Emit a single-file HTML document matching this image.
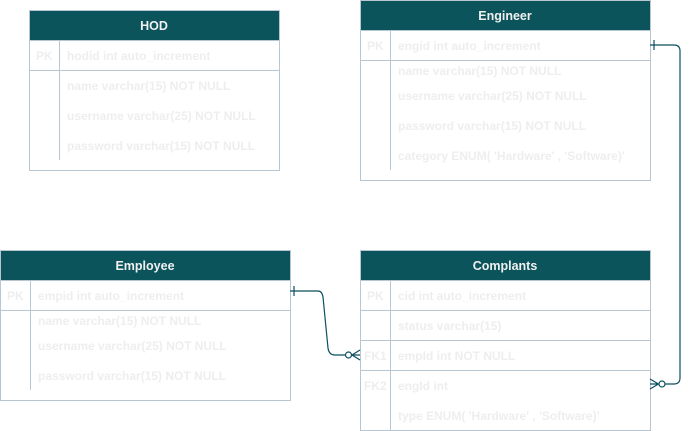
<!DOCTYPE html>
<html><head><meta charset="utf-8"><style>
html,body{margin:0;padding:0;background:#fff;width:690px;height:431px;overflow:hidden}
svg text{font-family:"Liberation Sans",Arial,sans-serif;font-weight:bold;font-size:12px}
.h{fill:#f0f0f0;font-size:12.5px}
.t{fill:#eeeeee}
</style></head><body>
<svg width="690" height="431" viewBox="0 0 690 431" xmlns="http://www.w3.org/2000/svg">
<g stroke="#b8c6d1" stroke-width="1" fill="none">
<!-- HOD -->
<rect x="29.5" y="10.5" width="250" height="160" fill="#fff"/>
<line x1="29.5" y1="70.5" x2="279.5" y2="70.5"/>
<line x1="59.5" y1="40" x2="59.5" y2="160"/>
<!-- Engineer -->
<rect x="360.5" y="0.5" width="290" height="180" fill="#fff"/>
<line x1="360.5" y1="60.5" x2="650.5" y2="60.5"/>
<line x1="390.5" y1="30" x2="390.5" y2="170"/>
<!-- Employee -->
<rect x="0.5" y="250.5" width="290" height="150" fill="#fff"/>
<line x1="0.5" y1="310.5" x2="290.5" y2="310.5"/>
<line x1="30.5" y1="280" x2="30.5" y2="390"/>
<!-- Complants -->
<rect x="360.5" y="250.5" width="290" height="180" fill="#fff"/>
<line x1="360.5" y1="310.5" x2="650.5" y2="310.5"/>
<line x1="360.5" y1="340.5" x2="650.5" y2="340.5"/>
<line x1="360.5" y1="370.5" x2="650.5" y2="370.5"/>
<line x1="390.5" y1="280" x2="390.5" y2="430"/>
</g>
<g fill="#0b545b">
<rect x="30" y="11" width="249" height="29"/>
<rect x="361" y="1" width="289" height="29"/>
<rect x="1" y="251" width="289" height="29"/>
<rect x="361" y="251" width="289" height="29"/>
</g>
<g stroke="#b8c6d1"><line x1="29.5" y1="40.5" x2="279.5" y2="40.5"/><line x1="360.5" y1="30.5" x2="650.5" y2="30.5"/><line x1="0.5" y1="280.5" x2="290.5" y2="280.5"/><line x1="360.5" y1="280.5" x2="650.5" y2="280.5"/></g>
<text class="h" x="154" y="30" text-anchor="middle">HOD</text>
<text class="h" x="505" y="20" text-anchor="middle">Engineer</text>
<text class="h" x="145" y="270" text-anchor="middle">Employee</text>
<text class="h" x="505" y="270" text-anchor="middle">Complants</text>
<g class="t">
<text x="36" y="60">PK</text>
<text x="67" y="60">hodid int auto_increment</text>
<text x="67" y="90">name varchar(15) NOT NULL</text>
<text x="67" y="120">username varchar(25) NOT NULL</text>
<text x="67" y="150">password varchar(15) NOT NULL</text>

<text x="367" y="50">PK</text>
<text x="398" y="50">engid int auto_increment</text>
<text x="398" y="75">name varchar(15) NOT NULL</text>
<text x="398" y="100">username varchar(25) NOT NULL</text>
<text x="398" y="130">password varchar(15) NOT NULL</text>
<text x="398" y="160">category ENUM( 'Hardware' , 'Software)'</text>

<text x="7" y="300">PK</text>
<text x="38" y="300">empid int auto_increment</text>
<text x="38" y="325">name varchar(15) NOT NULL</text>
<text x="38" y="350">username varchar(25) NOT NULL</text>
<text x="38" y="380">password varchar(15) NOT NULL</text>

<text x="367" y="300">PK</text>
<text x="398" y="300">cid int auto_increment</text>
<text x="398" y="330">status varchar(15)</text>
<text x="364" y="360">FK1</text>
<text x="398" y="360">empId int NOT NULL</text>
<text x="364" y="390">FK2</text>
<text x="398" y="390">engId int</text>
<text x="398" y="420">type ENUM( 'Hardware' , 'Software)'</text>
</g>
<g stroke="#0b4f5f" stroke-width="1.2" fill="none">
<!-- Employee -> Complants -->
<path d="M290 291 H318 Q322 291 323 297 L328 348 Q329 355 335 355 H345"/>
<line x1="294" y1="286" x2="294" y2="296"/>
<circle cx="348.5" cy="355" r="3" fill="#fff"/>
<path d="M352 355 H360 M352 355 L360 350 M352 355 L360 360"/>
<!-- Engineer -> Complants -->
<path d="M650 45 H674 Q680 45 680 51 V378 Q680 384 674 384 H665"/>
<line x1="654" y1="40" x2="654" y2="50"/>
<circle cx="662" cy="384" r="3" fill="#fff"/>
<path d="M658.5 384 H650 M658.5 384 L650 379 M658.5 384 L650 389"/>
</g>
</svg>
</body></html>
